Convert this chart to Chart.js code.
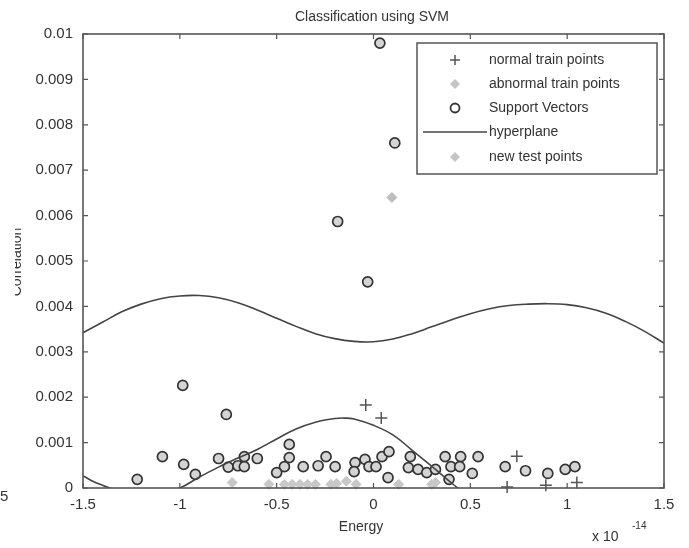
<!DOCTYPE html>
<html>
<head>
<meta charset="utf-8">
<title>Classification using SVM</title>
<script src="https://cdn.jsdelivr.net/npm/chart.js@4.4.0/dist/chart.umd.min.js"></script>
<style>
	body { margin: 0; background: #fff; }
	#wrap { width: 689px; height: 548px; }
</style>
</head>
<body>
<div id="wrap"><canvas id="chart" width="689" height="548"></canvas></div>
<script>
// energy (x 1e-14) / correlation pairs
var normalTrainX = [-0.04, 0.04, 0.74, 0.69, 0.89, 1.05];
var normalTrainY = [0.00183, 0.00154, 0.0007, 0.00002, 0.00006, 0.00012];

var abnormalTrainX = [-0.73, -0.54, -0.46, -0.42, -0.38, -0.34, -0.30, -0.22, -0.19, -0.14, -0.09, 0.13, 0.30, 0.32];
var abnormalTrainY = [0.00012, 0.00008, 0.00008, 0.00008, 0.00008, 0.00008, 0.00008, 0.00008, 0.0001, 0.00015, 0.00008, 0.00008, 0.00008, 0.00012];

var supportX = [0.033, 0.11, -0.185, -0.03, -0.985, -0.76, -1.09, -1.22, -0.98, -0.92,
	-0.80, -0.75, -0.70, -0.667, -0.667, -0.60, -0.435, -0.435, -0.46, -0.50,
	-0.363, -0.286, -0.245, -0.198, -0.095, -0.10, -0.044, -0.023, 0.013, 0.044,
	0.08, 0.075, 0.19, 0.18, 0.23, 0.275, 0.32, 0.37, 0.40, 0.45,
	0.445, 0.39, 0.51, 0.54, 0.68, 0.785, 0.90, 0.99, 1.04];
var supportY = [0.0098, 0.0076, 0.00587, 0.00454, 0.00226, 0.00162, 0.00069, 0.00019, 0.00052, 0.0003,
	0.00065, 0.00046, 0.00049, 0.00069, 0.00047, 0.00065, 0.00096, 0.00067, 0.00047, 0.00034,
	0.00047, 0.00049, 0.00069, 0.00047, 0.00056, 0.00036, 0.00063, 0.00047, 0.00047, 0.00069,
	0.0008, 0.00023, 0.00069, 0.00045, 0.00041, 0.00034, 0.00041, 0.00069, 0.00047, 0.00069,
	0.00047, 0.00019, 0.00032, 0.00069, 0.00047, 0.00038, 0.00032, 0.00041, 0.00047];

var testX = [0.095];
var testY = [0.0064];

// hyperplane, upper branch
var upperX = [-1.5, -1.4, -1.3, -1.2, -1.1, -1.0, -0.9, -0.8, -0.7, -0.6, -0.5, -0.4, -0.3, -0.2, -0.1,
	0.0, 0.1, 0.2, 0.3, 0.4, 0.5, 0.6, 0.7, 0.8, 0.9, 1.0, 1.1, 1.2, 1.3, 1.4, 1.5];
var upperY = [0.00342, 0.00365, 0.00388, 0.00405, 0.00417, 0.00423, 0.00424, 0.00419, 0.00408, 0.00392, 0.00374, 0.00356, 0.0034, 0.00329, 0.00323,
	0.00322, 0.00328, 0.0034, 0.00355, 0.0037, 0.00384, 0.00395, 0.00402, 0.00405, 0.00406, 0.00404, 0.00397, 0.00385, 0.00367, 0.00345, 0.00319];

// hyperplane, lower branch (dips below the axis and gets clipped)
var lowerX = [-1.5, -1.45, -1.4, -1.35, -1.3, -1.2, -1.1, -1.0, -0.9, -0.8, -0.7, -0.6, -0.5, -0.4, -0.3, -0.2, -0.15, -0.1, 0.0, 0.1, 0.2, 0.3, 0.4, 0.45, 0.5];
var lowerY = [0.00027, 0.00015, 0.00006, -0.00002, -0.0001, -0.0002, -0.00012, 0.0, 0.00024, 0.00046, 0.00066, 0.00085, 0.00108, 0.0013, 0.00145, 0.00153, 0.00154, 0.00152, 0.00138, 0.00117, 0.00083, 0.00048, 0.00012, -0.00005, -0.0002];

var xTicks = [-1.5, -1, -0.5, 0, 0.5, 1, 1.5];

function toPoints(xs, ys) {
	var pts = [];
	for (var i = 0; i < xs.length; i++) {
		pts.push({ x: xs[i], y: ys[i] });
	}
	return pts;
}

var FONT = "'Liberation Sans', Arial, sans-serif";
var INK = "#333333";
var AXIS = "#555555";

// frame, inward ticks and the loose text around the axes
var decorPlugin = {
	id: 'decor',
	afterDatasetsDraw: function(chart) {
		var ctx = chart.ctx;
		var a = chart.chartArea;
		var xs = chart.scales.x;
		var ys = chart.scales.y;
		ctx.save();
		ctx.strokeStyle = AXIS;
		ctx.lineWidth = 1.6;
		ctx.strokeRect(a.left, a.top, a.right - a.left, a.bottom - a.top);

		ctx.lineWidth = 1.2;
		ctx.beginPath();
		xs.ticks.forEach(function(t) {
			var px = xs.getPixelForValue(t.value);
			ctx.moveTo(px, a.bottom); ctx.lineTo(px, a.bottom - 5);
			ctx.moveTo(px, a.top); ctx.lineTo(px, a.top + 5);
		});
		ys.ticks.forEach(function(t) {
			var py = ys.getPixelForValue(t.value);
			ctx.moveTo(a.left, py); ctx.lineTo(a.left + 5, py);
			ctx.moveTo(a.right, py); ctx.lineTo(a.right - 5, py);
		});
		ctx.stroke();

		ctx.fillStyle = INK;
		ctx.font = "14px " + FONT;
		ctx.textAlign = "center";
		ctx.textBaseline = "middle";
		ctx.fillText("Classification using SVM", 372, 17);
		ctx.fillText("Energy", 361, 527);

		ctx.textAlign = "left";
		ctx.font = "14px " + FONT;
		ctx.fillText("x 10", 592, 537);
		ctx.font = "10px " + FONT;
		ctx.fillText("-14", 632, 526);

		ctx.font = "15px " + FONT;
		ctx.fillText("5", 0, 497);

		// y title, cut by the left border of the figure
		ctx.save();
		ctx.beginPath();
		ctx.rect(15, 0, 100, 548);
		ctx.clip();
		ctx.translate(17, 262);
		ctx.rotate(-Math.PI / 2);
		ctx.font = "14px " + FONT;
		ctx.textAlign = "center";
		ctx.textBaseline = "middle";
		ctx.fillText("Correlation", 0, 0);
		ctx.restore();

		drawLegend(ctx);
		ctx.restore();
	}
};

function drawLegend(ctx) {
	var bx = 417, by = 43, bw = 240, bh = 131;
	ctx.fillStyle = "#fff";
	ctx.fillRect(bx, by, bw, bh);
	ctx.strokeStyle = AXIS;
	ctx.lineWidth = 1.5;
	ctx.strokeRect(bx, by, bw, bh);

	var rows = [60, 84, 108, 132, 157];
	var labels = ["normal train points", "abnormal train points", "Support Vectors", "hyperplane", "new test points"];
	var mx = 455;

	// + marker
	ctx.strokeStyle = "#555";
	ctx.lineWidth = 1.5;
	ctx.beginPath();
	ctx.moveTo(mx - 5, rows[0]); ctx.lineTo(mx + 5, rows[0]);
	ctx.moveTo(mx, rows[0] - 5); ctx.lineTo(mx, rows[0] + 5);
	ctx.stroke();

	// diamonds
	[1, 4].forEach(function(r) {
		ctx.fillStyle = "#c4c4c4";
		ctx.beginPath();
		ctx.moveTo(mx, rows[r] - 5); ctx.lineTo(mx + 5, rows[r]);
		ctx.lineTo(mx, rows[r] + 5); ctx.lineTo(mx - 5, rows[r]);
		ctx.closePath();
		ctx.fill();
	});

	// circle
	ctx.strokeStyle = "#333";
	ctx.lineWidth = 1.8;
	ctx.beginPath();
	ctx.arc(mx, rows[2], 4.5, 0, Math.PI * 2);
	ctx.stroke();

	// line
	ctx.strokeStyle = "#444";
	ctx.lineWidth = 1.5;
	ctx.beginPath();
	ctx.moveTo(423, rows[3]); ctx.lineTo(487, rows[3]);
	ctx.stroke();

	ctx.fillStyle = INK;
	ctx.font = "14px " + FONT;
	ctx.textAlign = "left";
	ctx.textBaseline = "middle";
	for (var i = 0; i < labels.length; i++) {
		ctx.fillText(labels[i], 489, rows[i]);
	}
}

var ctx = document.getElementById("chart").getContext("2d");
var chart = new Chart(ctx, {
	type: 'scatter',
	data: {
		datasets: [
			{
				label: 'hyperplane',
				data: toPoints(upperX, upperY),
				showLine: true,
				borderColor: '#444',
				borderWidth: 1.6,
				pointRadius: 0,
				tension: 0.4,
				order: 1
			},
			{
				label: 'hyperplane lower',
				data: toPoints(lowerX, lowerY),
				showLine: true,
				borderColor: '#444',
				borderWidth: 1.6,
				pointRadius: 0,
				tension: 0.4,
				order: 1
			},
			{
				label: 'normal train points',
				data: toPoints(normalTrainX, normalTrainY),
				pointStyle: 'cross',
				pointRadius: 6,
				borderColor: '#555',
				borderWidth: 1.5,
				clip: false,
				order: 2
			},
			{
				label: 'abnormal train points',
				data: toPoints(abnormalTrainX, abnormalTrainY),
				pointStyle: 'rectRot',
				pointRadius: 5,
				backgroundColor: '#c8c8c8',
				borderColor: '#c8c8c8',
				borderWidth: 1,
				clip: false,
				order: 4
			},
			{
				label: 'Support Vectors',
				data: toPoints(supportX, supportY),
				pointStyle: 'circle',
				pointRadius: 5,
				backgroundColor: '#d4d4d4',
				borderColor: '#333',
				borderWidth: 1.7,
				clip: false,
				order: 3
			},
			{
				label: 'new test points',
				data: toPoints(testX, testY),
				pointStyle: 'rectRot',
				pointRadius: 5,
				backgroundColor: '#bdbdbd',
				borderColor: '#bdbdbd',
				borderWidth: 1,
				clip: false,
				order: 4
			}
		]
	},
	options: {
		responsive: false,
		animation: false,
		layout: { padding: { left: 0, right: 25, top: 34, bottom: 0 } },
		plugins: {
			legend: { display: false },
			tooltip: { enabled: false },
			title: { display: false }
		},
		scales: {
			x: {
				type: 'linear',
				min: -1.5,
				max: 1.5,
				afterBuildTicks: function(scale) {
					scale.ticks = xTicks.map(function(v) { return { value: v }; });
				},
				afterFit: function(scale) { scale.height = 60; },
				grid: { display: false },
				border: { display: false },
				ticks: {
					color: INK,
					font: { family: FONT, size: 15 },
					padding: 0,
					maxRotation: 0,
					callback: function(v) { return String(v); }
				}
			},
			y: {
				type: 'linear',
				min: 0,
				max: 0.01,
				afterFit: function(scale) { scale.width = 83; },
				grid: { display: false },
				border: { display: false },
				ticks: {
					stepSize: 0.001,
					color: INK,
					font: { family: FONT, size: 15 },
					padding: 2,
					callback: function(v) { return String(Number(v.toFixed(3))); }
				}
			}
		}
	},
	plugins: [decorPlugin]
});
</script>
</body>
</html>
